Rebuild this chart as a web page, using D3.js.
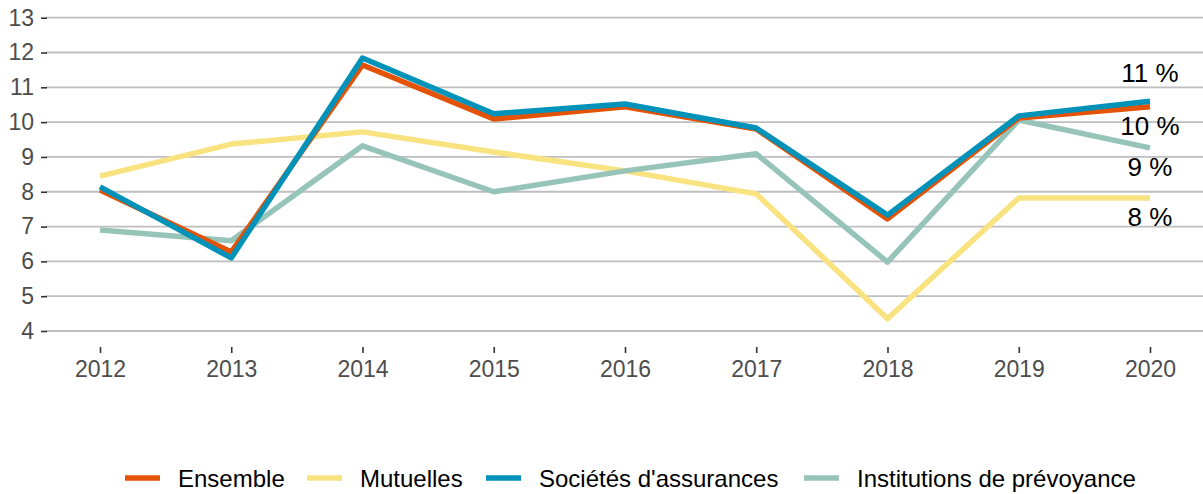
<!DOCTYPE html>
<html>
<head>
<meta charset="utf-8">
<script src="https://cdn.jsdelivr.net/npm/d3@7"></script>
<style>
  body { margin: 0; background: #fff; }
  text { font-family: "Liberation Sans", Arial, sans-serif; }
</style>
</head>
<body>
<div id="g"></div>
<script>
// data
var years = [2012, 2013, 2014, 2015, 2016, 2017, 2018, 2019, 2020];
var ensemble   = [8.05, 6.27, 11.64, 10.09, 10.44, 9.8, 7.22, 10.12, 10.44];
var mutuelles  = [8.45, 9.37, 9.72, 9.14, 8.6, 7.94, 4.35, 7.82, 7.82];
var societes   = [8.14, 6.1, 11.84, 10.24, 10.52, 9.83, 7.33, 10.18, 10.6];
var institutions = [6.9, 6.59, 9.32, 8.0, 8.6, 9.09, 5.98, 10.06, 9.26];
var seriesNames = ["Ensemble", "Mutuelles", "Sociétés d'assurances", "Institutions de prévoyance"];
var seriesColors = ["#e35205", "#f9e380", "#0092b9", "#97c4b9"];
var yTicks = [4, 5, 6, 7, 8, 9, 10, 11, 12, 13];
// end-of-line labels (rounded last values), -1 = above the line, 1 = below
var endLabels = ["10 %", "8 %", "11 %", "9 %"];
var endLabelSide = [1, 1, -1, 1];

var WIDTH = 1203, HEIGHT = 494;

var series = [ensemble, mutuelles, societes, institutions].map(function(v, i) {
  return { name: seriesNames[i], color: seriesColors[i], values: v,
           label: endLabels[i], side: endLabelSide[i] };
});

var svg = d3.select("#g").append("svg")
  .attr("width", WIDTH).attr("height", HEIGHT);

var x = d3.scalePoint().domain(years).range([100, 1150]);
var y = d3.scaleLinear().domain([4, 13]).range([331, 17.7]);

// grid
svg.append("g").selectAll("line")
  .data(yTicks).enter().append("line")
  .attr("x1", 46).attr("x2", WIDTH)
  .attr("y1", function(d) { return y(d); })
  .attr("y2", function(d) { return y(d); })
  .attr("stroke", "#bebebe").attr("stroke-width", 1.8);

// y axis
var yAxis = svg.append("g").attr("transform", "translate(47,0)")
  .call(d3.axisLeft(y).tickValues(yTicks).tickSize(6).tickPadding(7));
yAxis.select(".domain").remove();
yAxis.selectAll(".tick line").attr("stroke", "#333").attr("stroke-width", 1.6);
yAxis.selectAll(".tick text").attr("fill", "#4d4d4d").style("font-size", "23px");

// x axis
var xAxis = svg.append("g").attr("transform", "translate(0,347)")
  .call(d3.axisBottom(x).tickSize(6).tickPadding(8).tickFormat(d3.format("d")));
xAxis.select(".domain").remove();
xAxis.selectAll(".tick line").attr("stroke", "#333").attr("stroke-width", 1.6);
xAxis.selectAll(".tick text").attr("fill", "#4d4d4d").style("font-size", "23px");

// lines (drawn in order so that blue sits on top)
var drawOrder = [1, 3, 0, 2];
var line = d3.line()
  .x(function(d, i) { return x(years[i]); })
  .y(function(d) { return y(d); });

svg.append("g").selectAll("path")
  .data(drawOrder.map(function(i) { return series[i]; }))
  .enter().append("path")
  .attr("d", function(d) { return line(d.values); })
  .attr("fill", "none")
  .attr("stroke", function(d) { return d.color; })
  .attr("stroke-width", 5.5)
  .attr("stroke-linejoin", "round");

// end labels
svg.append("g").selectAll("text")
  .data(series).enter().append("text")
  .attr("x", x(years[years.length - 1]))
  .attr("y", function(d) {
    var v = y(d.values[d.values.length - 1]);
    return d.side < 0 ? v - 19 : v + 28;
  })
  .attr("text-anchor", "middle")
  .attr("fill", "#000")
  .style("font-size", "26px")
  .text(function(d) { return d.label; });

// legend
var legendX = [125, 307, 486, 804];
var leg = svg.append("g").selectAll("g")
  .data(series).enter().append("g")
  .attr("transform", function(d, i) { return "translate(" + legendX[i] + ",478)"; });
leg.append("line")
  .attr("x1", 0).attr("x2", 35).attr("y1", 0).attr("y2", 0)
  .attr("stroke", function(d) { return d.color; })
  .attr("stroke-width", 5.5);
leg.append("text")
  .attr("x", 53).attr("y", 8.5)
  .attr("fill", "#000")
  .style("font-size", "24px")
  .text(function(d) { return d.name; });
</script>
</body>
</html>
